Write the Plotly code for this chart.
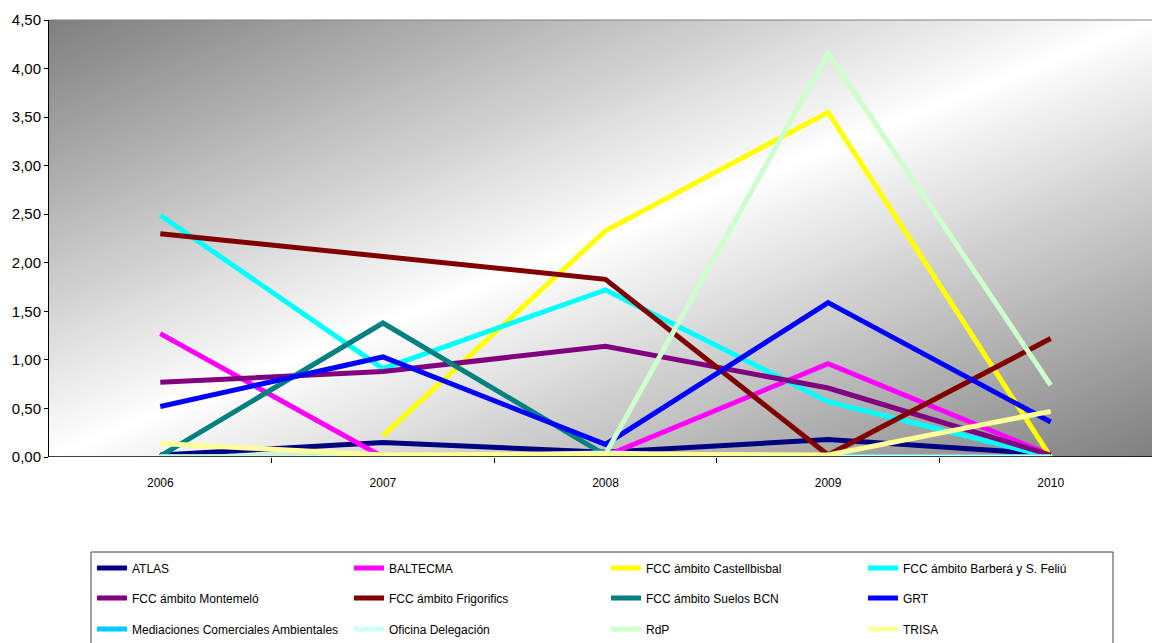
import base64
import plotly.graph_objects as go

years = ["2006", "2007", "2008", "2009", "2010"]

series_names = [
    "ATLAS", "BALTECMA", "FCC ámbito Castellbisbal", "FCC ámbito Barberá y S. Feliú",
    "FCC ámbito Montemeló", "FCC ámbito Frigorifics", "FCC ámbito Suelos BCN", "GRT",
    "Mediaciones Comerciales Ambientales", "Oficina Delegación", "RdP", "TRISA",
]

atlas = [0.02, 0.15, 0.05, 0.18, 0.03]
baltecma = [1.27, 0.00, 0.01, 0.96, 0.02]
castellbisbal = [None, 0.22, 2.33, 3.55, 0.00]
barbera = [2.49, 0.91, 1.72, 0.57, 0.00]
montemelo = [0.77, 0.88, 1.14, 0.71, 0.02]
frigorifics = [2.30, 2.06, 1.83, 0.02, 1.22]
suelos_bcn = [0.01, 1.38, 0.02, 0.00, 0.00]
grt = [0.52, 1.03, 0.13, 1.59, 0.36]
mediaciones = [0.00, 0.00, 0.00, 0.00, 0.00]
oficina = [0.00, 0.00, 0.04, 0.00, 0.00]
rdp = [0.00, 0.00, 0.03, 4.16, 0.74]
trisa = [0.14, 0.02, 0.03, 0.02, 0.47]

series_values = [atlas, baltecma, castellbisbal, barbera, montemelo, frigorifics,
                 suelos_bcn, grt, mediaciones, oficina, rdp, trisa]
series_colors = ["#000080", "#FF00FF", "#FFFF00", "#00FFFF", "#800080", "#800000",
                 "#008080", "#0000FF", "#00CCFF", "#CCFFFF", "#CCFFCC", "#FFFF99"]

y_ticks = [0.0, 0.5, 1.0, 1.5, 2.0, 2.5, 3.0, 3.5, 4.0, 4.5]

FONT = "Liberation Sans Narrow, Arial Narrow, Liberation Sans, Arial, sans-serif"

W, H = 1152, 643
L, R, T, B = 49, 0, 20, 186
PW, PH = W - L - R, H - T - B


def px_to_paper_y(p):
    return (H - B - p) / PH


def px_to_paper_x(p):
    return (p - L) / PW


x_idx = list(range(len(years)))

fig = go.Figure()
legends = ["legend", "legend2", "legend3"]
for i, (name, vals, col) in enumerate(zip(series_names, series_values, series_colors)):
    fig.add_trace(go.Scatter(
        x=x_idx, y=vals, name=name, mode="lines",
        line=dict(color=col, width=5),
        legend=legends[i // 4],
        hoverinfo="skip",
    ))

svg = (
    '<svg xmlns="http://www.w3.org/2000/svg" width="100" height="100" '
    'preserveAspectRatio="none" viewBox="0 0 100 100">'
    '<defs><linearGradient id="g" x1="0" y1="0" x2="1" y2="1">'
    '<stop offset="0" stop-color="#7f7f7f"/>'
    '<stop offset="0.5" stop-color="#ffffff"/>'
    '<stop offset="1" stop-color="#7f7f7f"/>'
    '</linearGradient></defs>'
    '<rect x="0" y="0" width="100" height="100" fill="url(#g)"/></svg>'
)
svg_uri = "data:image/svg+xml;base64," + base64.b64encode(svg.encode()).decode()

fig.add_layout_image(dict(
    source=svg_uri, xref="paper", yref="paper", x=0, y=1, sizex=1, sizey=1,
    sizing="stretch", xanchor="left", yanchor="top", layer="below",
))

legend_common = dict(
    orientation="h", xanchor="left", yanchor="middle",
    x=px_to_paper_x(92), entrywidth=212, entrywidthmode="pixels",
    itemwidth=30, bgcolor="rgba(0,0,0,0)", borderwidth=0,
    font=dict(family=FONT, size=12, color="#000000"),
    traceorder="normal", itemclick=False, itemdoubleclick=False,
)
row_centers = [568, 598, 629]

fig.update_layout(
    width=W, height=H, autosize=False,
    margin=dict(l=L, r=R, t=T, b=B, pad=0, autoexpand=False),
    paper_bgcolor="#ffffff", plot_bgcolor="rgba(0,0,0,0)",
    separators=",.",
    font=dict(family=FONT, color="#000000"),
    showlegend=True,
    legend=dict(legend_common, y=px_to_paper_y(row_centers[0])),
    legend2=dict(legend_common, y=px_to_paper_y(row_centers[1])),
    legend3=dict(legend_common, y=px_to_paper_y(row_centers[2])),
    xaxis=dict(
        range=[-0.5, (PW / 222.6) - 0.5], tickvals=x_idx, ticktext=years,
        showgrid=False, zeroline=False, showline=False,
        ticks="outside", ticklen=15, tickcolor="rgba(0,0,0,0)",
        tickfont=dict(family=FONT, size=12, color="#000000"),
        minor=dict(tickvals=[0.5, 1.5, 2.5, 3.5], ticks="outside", ticklen=5,
                   tickcolor="#000000", tickwidth=1, showgrid=False),
        fixedrange=True,
    ),
    yaxis=dict(
        range=[0, 4.5], tickvals=y_ticks, tickformat=".2f",
        showgrid=False, zeroline=False,
        showline=True, linecolor="#000000", linewidth=1,
        ticks="outside", ticklen=4, tickcolor="#000000",
        tickfont=dict(family=FONT, size=15, color="#000000"),
        fixedrange=True,
    ),
    shapes=[
        dict(type="line", xref="paper", yref="y", x0=0, x1=1, y0=0, y1=0,
             line=dict(color="#000000", width=1.5)),
        dict(type="line", xref="paper", yref="paper", x0=0, x1=1, y0=1, y1=1,
             line=dict(color="#808080", width=1)),
        dict(type="rect", xref="paper", yref="paper",
             x0=px_to_paper_x(91), x1=px_to_paper_x(1113),
             y0=px_to_paper_y(660), y1=px_to_paper_y(552),
             line=dict(color="#404040", width=1), fillcolor="rgba(0,0,0,0)"),
    ],
)

fig.write_html("out.html")
